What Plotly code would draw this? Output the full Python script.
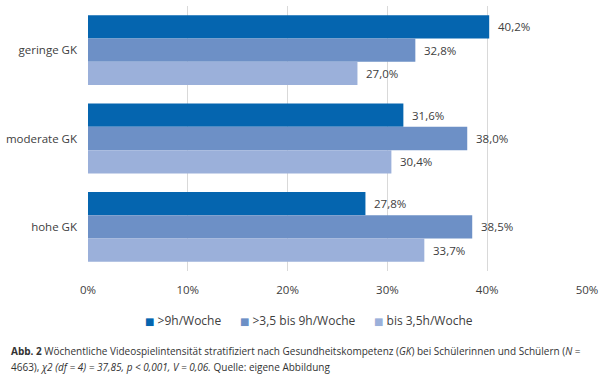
import plotly.graph_objects as go

categories = ["geringe GK", "moderate GK", "hohe GK"]
series_names = [">9h/Woche", ">3,5 bis 9h/Woche", "bis 3,5h/Woche"]
values_gt9 = [40.2, 31.6, 27.8]
values_35_9 = [32.8, 38.0, 38.5]
values_le35 = [27.0, 30.4, 33.7]
tick_values = [0, 10, 20, 30, 40, 50]
tick_labels = ["0%", "10%", "20%", "30%", "40%", "50%"]

colors = ["#0565AF", "#6D90C6", "#9BB0DA"]
all_values = [values_gt9, values_35_9, values_le35]

FONT = "Open Sans, Noto Sans, sans-serif"
TXT = "#404040"

fig = go.Figure()
for name, vals, col in zip(series_names, all_values, colors):
    fig.add_trace(go.Bar(
        y=categories, x=vals, name=name, orientation="h",
        marker=dict(color=col, line=dict(width=0)),
        hoverinfo="skip", showlegend=False,
    ))

# data labels
annotations = []
for i, vals in enumerate(all_values):
    for j, v in enumerate(vals):
        annotations.append(dict(
            x=v, y=categories[j], xref="x", yref="y",
            text=f"{v:.1f}%".replace(".", ","),
            showarrow=False, xanchor="left", xshift=7,
            yshift=(1 - i) * 23.3,
            font=dict(family=FONT, size=11.5, color=TXT),
        ))

# legend row (compact, like the original)
gap = "\u00a0" * 6
legend_text = gap.join(
    f"<span style='color:{c};font-size:10px;font-family:DejaVu Sans'>■</span>\u00a0{n}"
    for n, c in zip(series_names, colors)
)
annotations.append(dict(text=legend_text, xref="paper", yref="paper", x=0.443, y=-0.185,
                        xanchor="center", yanchor="middle", showarrow=False,
                        font=dict(family=FONT, size=12, color=TXT)))

# caption
cap1 = ("<b>Abb. 2</b> Wöchentliche Videospielintensität stratifiziert nach Gesundheitskompetenz "
        "(<i>GK</i>) bei Schülerinnen und Schülern (<i>N</i> =")
cap2 = ("4663), <i>χ2 (df = 4) = 37,85, p &lt; 0,001, V = 0,06.</i> Quelle: eigene Abbildung")
annotations.append(dict(text=cap1, xref="paper", yref="paper", x=-0.159, y=-0.300,
                        xanchor="left", yanchor="middle", showarrow=False, align="left",
                        font=dict(family=FONT, size=10, color="#333333")))
annotations.append(dict(text=cap2, xref="paper", yref="paper", x=-0.159, y=-0.364,
                        xanchor="left", yanchor="middle", showarrow=False, align="left",
                        font=dict(family=FONT, size=10, color="#333333")))

fig.update_layout(
    width=607, height=380,
    margin=dict(l=87.5, r=19.5, t=5.7, b=109.3, pad=0, autoexpand=False),
    paper_bgcolor="white", plot_bgcolor="white",
    barmode="group", bargap=0.21, bargroupgap=0,
    font=dict(family=FONT, size=11.5, color=TXT),
    showlegend=False,
    annotations=annotations,
)
fig.update_xaxes(range=[0, 50], tickvals=tick_values, ticktext=tick_labels,
                 showgrid=True, gridcolor="#D9D9D9", gridwidth=1,
                 zeroline=False, showline=False, ticks="",
                 ticklabelstandoff=10, fixedrange=True)
fig.update_yaxes(autorange="reversed", showgrid=False, zeroline=False, showline=False,
                 ticks="", ticklabelstandoff=10, fixedrange=True)

fig.write_html("out.html", config={"displayModeBar": False},
               post_script="document.body.style.margin='0';")
